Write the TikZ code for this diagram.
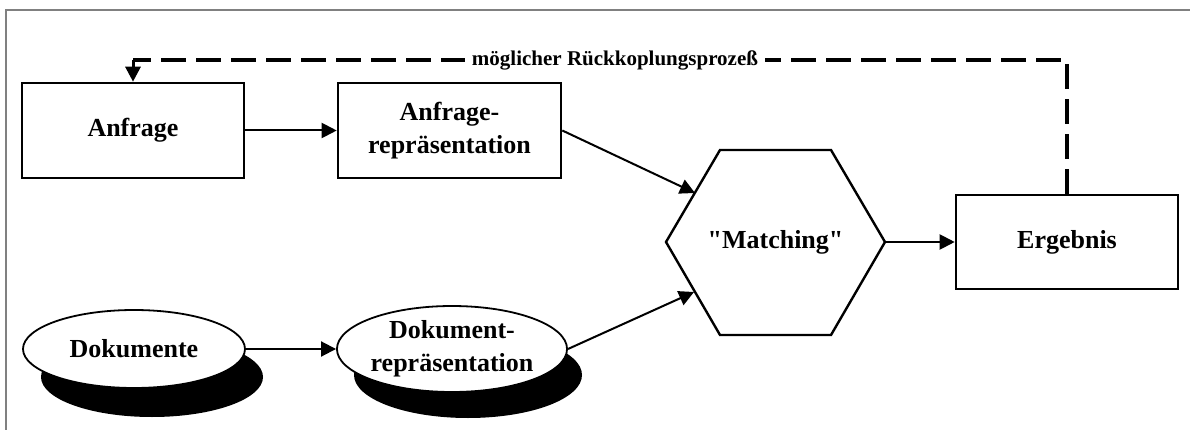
\documentclass[tikz,border=0pt]{standalone}
\usepackage{fontspec}
\setmainfont{Liberation Serif}[Ligatures=TeXOff]
\usetikzlibrary{arrows.meta,shapes.geometric}
\begin{document}
\begin{tikzpicture}[x=1pt,y=-1pt,
  labelfont/.style={font=\fontsize{26}{33}\selectfont\bfseries},
  box/.style={draw, line width=2.6pt, minimum width=222pt, minimum height=95pt,
    inner sep=0pt, align=center, labelfont},
  oval/.style={ellipse, draw, line width=1.8pt, fill=white, inner sep=0pt,
    align=center, labelfont},
  ovalshadow/.style={ellipse, fill=black, inner sep=0pt},
  conn/.style={line width=2pt, -{Triangle[length=15pt,width=15pt]}},
  feedback/.style={line width=3.4pt, dash pattern=on 25pt off 10pt},
  hexline/.style={line width=2.4pt, line join=miter},
  frameline/.style={draw=black!50, line width=1.2pt}
]
\useasboundingbox (0,0) rectangle (1190,430);

% outer frame (top and left edge only)
\draw[frameline] (6,430) -- (6,10) -- (1190,10);

% query side
\node[box] (anfrage) at (133,130.5) {Anfrage};
\node[box, minimum width=223pt] (anfrep) at (449.5,130.5) {Anfrage-\\repräsentation};

% document side: ellipses with drop shadows
\node[ovalshadow, minimum width=222pt, minimum height=80pt] (dokushadow) at (152,377) {};
\node[oval, minimum width=222pt, minimum height=78pt] (doku) at (134,349) {Dokumente};
\node[ovalshadow, minimum width=228pt, minimum height=86pt] (dokrepshadow) at (468,375) {};
\node[oval, minimum width=228pt, minimum height=86pt] (dokrep) at (452,349) {Dokument-\\repräsentation};

% matching hexagon
\coordinate (hl) at (666,242);
\coordinate (htl) at (720,150);
\coordinate (htr) at (831,150);
\coordinate (hr) at (885,242);
\coordinate (hbr) at (831,335);
\coordinate (hbl) at (720,335);
\draw[hexline] (hl) -- (htl) -- (htr) -- (hr) -- (hbr) -- (hbl) -- cycle;
\node[labelfont] (match) at (775.5,242) {"Matching"};
\coordinate (hexin1) at (695,193);
\coordinate (hexin2) at (694,292);

% result
\node[box, minimum height=94pt] (erg) at (1067,242) {Ergebnis};

% connectors
\draw[conn] (anfrage) -- (anfrep);
\draw[conn] (doku.east) -- (dokrep.west);
\draw[conn] (anfrep.east) -- (hexin1);
\draw[conn] (dokrep.east) -- (hexin2);
\draw[conn] (hr) -- (erg.west);

% feedback loop
\coordinate (fbright) at (1067,60);
\coordinate (fbleft) at (133,60);
\draw[feedback] (erg.north) -- (fbright) -- (fbleft);
\draw[line width=3pt, -{Triangle[length=15pt,width=15pt]}] (fbleft) -- (anfrage.north);
\node[fill=white, inner xsep=7pt, inner ysep=2pt,
  font=\fontsize{21}{25}\selectfont\bfseries] (fblabel) at (615,60) {möglicher Rückkoplungsprozeß};
\end{tikzpicture}
\end{document}
